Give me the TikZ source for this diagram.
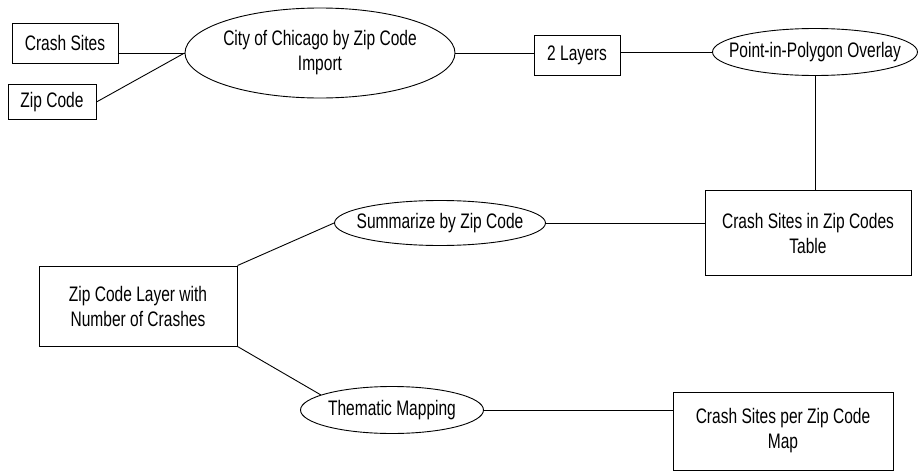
\documentclass[tikz,border=0pt]{standalone}
\usepackage{fontspec}
\setmainfont{Liberation Sans}[FakeStretch=0.74]
\usetikzlibrary{shapes.geometric}
\tikzset{
  txt/.style={font=\fontsize{21}{25}\selectfont, align=center},
  base/.style={draw=black, line width=0.9pt, inner sep=0pt},
  boxnode/.style={base, txt, rectangle},
  % the oval is sized by its own width and height; its text sits inside as a centred label
  ovalnode/.style={base, ellipse, label={[txt, inner sep=0pt]center:#1}},
  link/.style={draw=black, line width=0.9pt}
}
\begin{document}
\begin{tikzpicture}[x=1pt, y=-1pt]
\useasboundingbox (0,0) rectangle (919,474);

% inputs and import
\node[boxnode, minimum width=106pt, minimum height=40pt] (cs) at (65,43) {Crash Sites};
\node[boxnode, minimum width=88pt, minimum height=35pt] (zc) at (52,102) {Zip Code};
\node[ovalnode={City of Chicago by Zip Code\\Import}, minimum width=270pt, minimum height=90pt] (city) at (320,53) {};
\node[boxnode, minimum width=86pt, minimum height=40pt] (two) at (577,55) {2 Layers};
\node[ovalnode={Point-in-Polygon Overlay}, minimum width=205pt, minimum height=47pt] (pip) at (815,52) {};

% table and summary
\node[boxnode, minimum width=206pt, minimum height=85pt] (tab) at (808,233) {Crash Sites in Zip Codes\\Table};
\node[ovalnode={Summarize by Zip Code}, minimum width=211pt, minimum height=45pt] (sum) at (440,223) {};
\node[boxnode, minimum width=198pt, minimum height=80pt] (zcl) at (138,306) {Zip Code Layer with\\Number of Crashes};

% mapping
\node[ovalnode={Thematic Mapping}, minimum width=183pt, minimum height=47pt] (tm) at (392,410) {};
\node[boxnode, minimum width=220pt, minimum height=78pt] (map) at (783,431) {Crash Sites per Zip Code\\Map};

% connectors
\draw[link] (cs.east |- city.west) -- (city.west);
\draw[link] (zc.east) -- (city.west);
\draw[link] (city.east) -- (city.east -| two.west);
\draw[link] (two.east |- pip.west) -- (pip.west);
\draw[link] (pip.south) -- (pip.south |- tab.north);
\draw[link] (sum.east) -- (sum.east -| tab.west);
\draw[link] (zcl.north east) -- (sum.west);
\draw[link] (zcl.south east) -- (tm.168);
\draw[link] (tm.east) -- (tm.east -| map.west);
\end{tikzpicture}
\end{document}
